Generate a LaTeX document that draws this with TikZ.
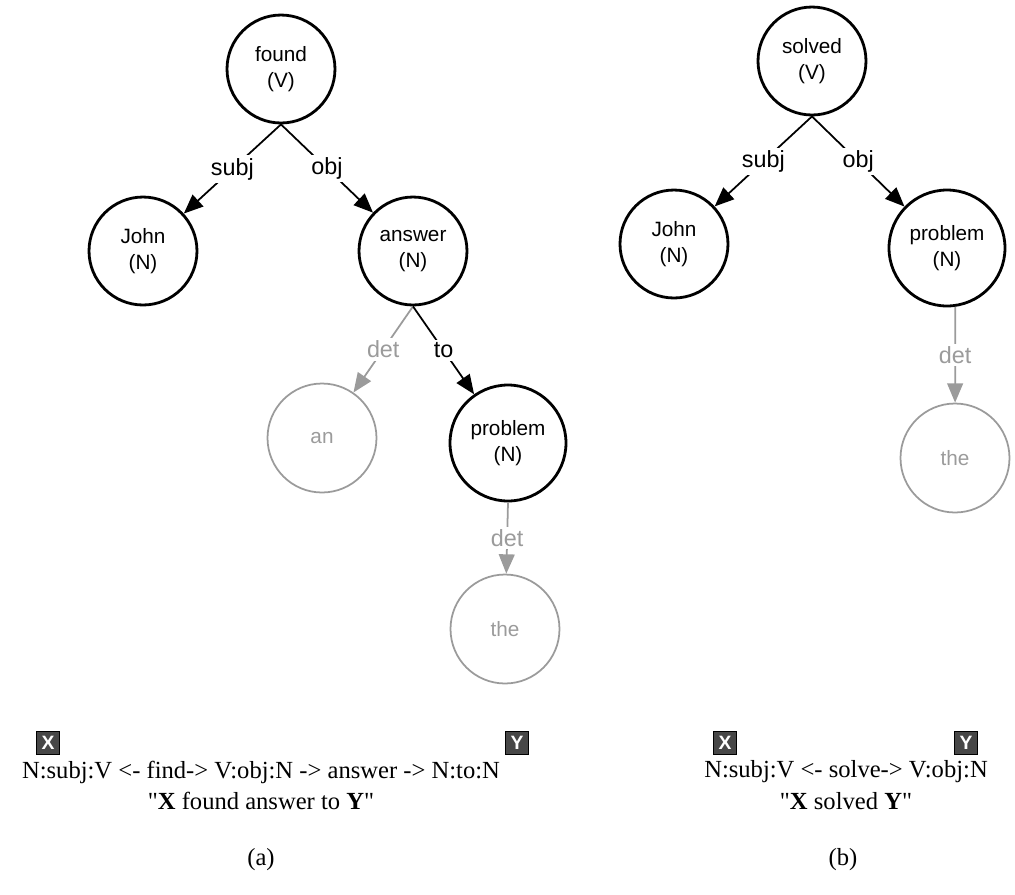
\documentclass[tikz,border=0pt]{standalone}
\usepackage{fontspec}
\setmainfont{Liberation Serif}[Ligatures=TeXOff]
\setsansfont{Liberation Sans}
\usetikzlibrary{arrows.meta}
\usetikzlibrary{positioning}
\definecolor{detgray}{HTML}{9B9B9B}
\definecolor{slotgray}{HTML}{474747}
\tikzset{basic word/.style={draw,circle,align=center,inner sep=0pt,
                            font=\sffamily\fontsize{11.8}{14.5}\selectfont}}
\tikzset{word/.style={basic word,line width=1.6pt,minimum size=2.16cm}}
\tikzset{wide word/.style={word,minimum size=2.32cm}}
\tikzset{det word/.style={basic word,detgray,line width=1pt,minimum size=2.18cm}}
\tikzset{dep/.style={draw,
                     line width=1pt,
                     -{Triangle[length=11pt,width=9pt]}}}
\tikzset{det dep/.style={dep,detgray}}
\tikzset{rel/.style={fill=white,inner sep=1.5pt,font=\sffamily\fontsize{13.3}{15}\selectfont}}

\begin{document}
\begin{tikzpicture}
    [
      x=0.02cm, y=-0.02cm,
      slot/.style = {fill=slotgray, draw=black, line width=0.6pt, text=white, minimum size=0.47cm,
                     inner sep=0pt, font=\sffamily\bfseries\fontsize{11}{12}\selectfont},
      pat/.style = {inner sep=0pt, font=\fontsize{14}{16}\selectfont},
    ]
    \useasboundingbox (0,0) rectangle (1015,894);

    % tree (a)
    \node [word] (fa) at (281,69) {found\\(V)};
    \node [word] (ja) at (143,251) {John\\(N)};
    \node [word] (aa) at (413,251) {answer\\(N)};
    \node [det word] (an) at (322,438) {an};
    \node [wide word] (pa) at (508,443) {problem\\(N)};
    \node [det word] (ta) at (505,629) {the};

    \draw [dep] (fa.south) -- node [rel] {subj} (ja);
    \draw [dep] (fa.south) -- node [rel] {obj} (aa);
    \draw [det dep] (aa.south) -- node [rel,text=detgray] {det} (an);
    \draw [dep] (aa.south) -- node [rel] {to} (pa);
    \draw [det dep] (pa.south) -- node [rel,text=detgray] {det} (ta);

    % tree (b)
    \node [word] (sb) at (812,61) {solved\\(V)};
    \node [word] (jb) at (674,244) {John\\(N)};
    \node [wide word] (pb) at (947,248) {problem\\(N)};
    \node [det word] (tb) at (955,458) {the};

    \draw [dep] (sb.south) -- node [rel] {subj} (jb);
    \draw [dep] (sb.south) -- node [rel] {obj} (pb);
    \draw [det dep] (pb.-82) -- node [rel,text=detgray] {det} (tb);

    % slots
    \foreach \n/\x/\l in {xa/48/X,ya/517/Y,xb/725/X,yb/966/Y}
      \node [slot] (\n) at (\x,743) {\l};

    % paths and paraphrases
    \node [pat] (pata) at (261,772) {N:subj:V <- find-> V:obj:N -> answer -> N:to:N};
    \node [pat] (sena) at (261,801) {"\textbf{X} found answer to \textbf{Y}"};
    \node [pat] (capa) at (261,860) {(a)};

    \node [pat] (patb) at (846,772) {N:subj:V <- solve-> V:obj:N};
    \node [pat] (senb) at (846,801) {"\textbf{X} solved \textbf{Y}"};
    \node [pat] (capb) at (843,860) {(b)};

  \end{tikzpicture}
\end{document}
